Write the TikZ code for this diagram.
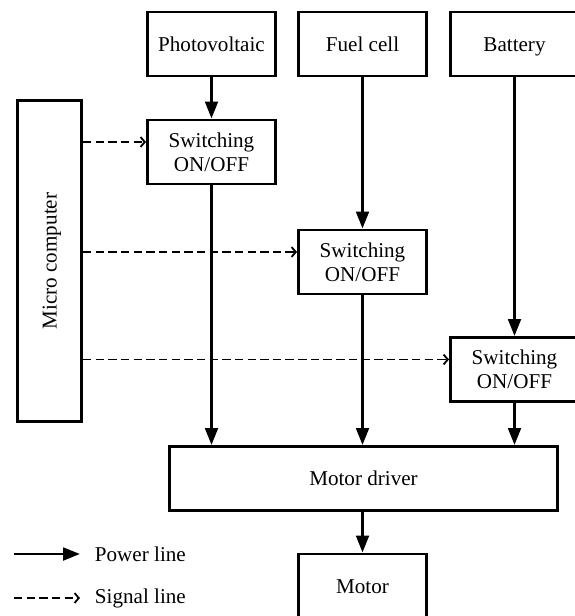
\documentclass[tikz,border=0pt]{standalone}
\usepackage{fontspec}
\setmainfont{Liberation Serif}
\usetikzlibrary{arrows.meta, calc}

\begin{document}
\begin{tikzpicture}[x=0.025cm, y=-0.025cm,
    blk/.style={draw, line width=2.1pt, minimum width=3.2cm, minimum height=1.6cm, align=center, font=\fontsize{15}{17}\selectfont},
    one/.style={text height=10pt, text depth=0pt},
    pwr/.style={line width=2pt, -{Triangle[length=12pt, width=9pt]}},
    sig/.style={line width=1.3pt, dash pattern=on 6pt off 3pt, -{Straight Barb[length=3pt, width=7pt]}}]

    \useasboundingbox (0,0) rectangle (574,616);

    \node (pv) [blk, one] at (211.5,44) {Photovoltaic};
    \node (fc) [blk, one] at (362.5,44) {Fuel cell};
    \node (bat) [blk, one] at (514.5,44) {Battery};

    \node (sw1) [blk] at (211.5,152) {Switching\\ON/OFF};
    \node (sw2) [blk] at (362.5,262) {Switching\\ON/OFF};
    \node (sw3) [blk] at (514.5,369.5) {Switching\\ON/OFF};

    \node (mc) [blk, one, rotate=90, minimum width=8.0cm] at (49.5,261) {Micro computer};
    \node (drv) [blk, one, minimum width=9.7cm] at (363.5,478.5) {Motor driver};
    \node (mot) [blk, one] at (362.5,586) {Motor};

    \draw[pwr] (pv) -- (sw1);
    \draw[pwr] (fc) -- (sw2);
    \draw[pwr] (bat) -- (sw3);
    \foreach \s in {sw1,sw2,sw3}
        \draw[pwr] (\s.south) -- (\s.south |- drv.north);
    \draw[pwr] (drv.south -| mot.north) -- (mot.north);

    \foreach \s in {sw1,sw2,sw3} {
        \coordinate (\s-in) at ($(\s.west)+(0,-10)$);
        \coordinate (\s-out) at (mc.south |- \s-in);
        \draw[sig] (\s-out) -- (\s-in);
    }

    \coordinate (pl) at (14,554);
    \coordinate (pl-end) at (80,554);
    \coordinate (sl) at (14,598);
    \coordinate (sl-end) at (80,598);
    \node (pltxt) [anchor=west, font=\fontsize{15}{17}\selectfont] at (90,554) {Power line};
    \node (sltxt) [anchor=west, font=\fontsize{15}{17}\selectfont] at (90,598) {Signal line};
    \draw[pwr] (pl) -- (pl-end);
    \draw[sig] (sl) -- (sl-end);

\end{tikzpicture}
\end{document}
